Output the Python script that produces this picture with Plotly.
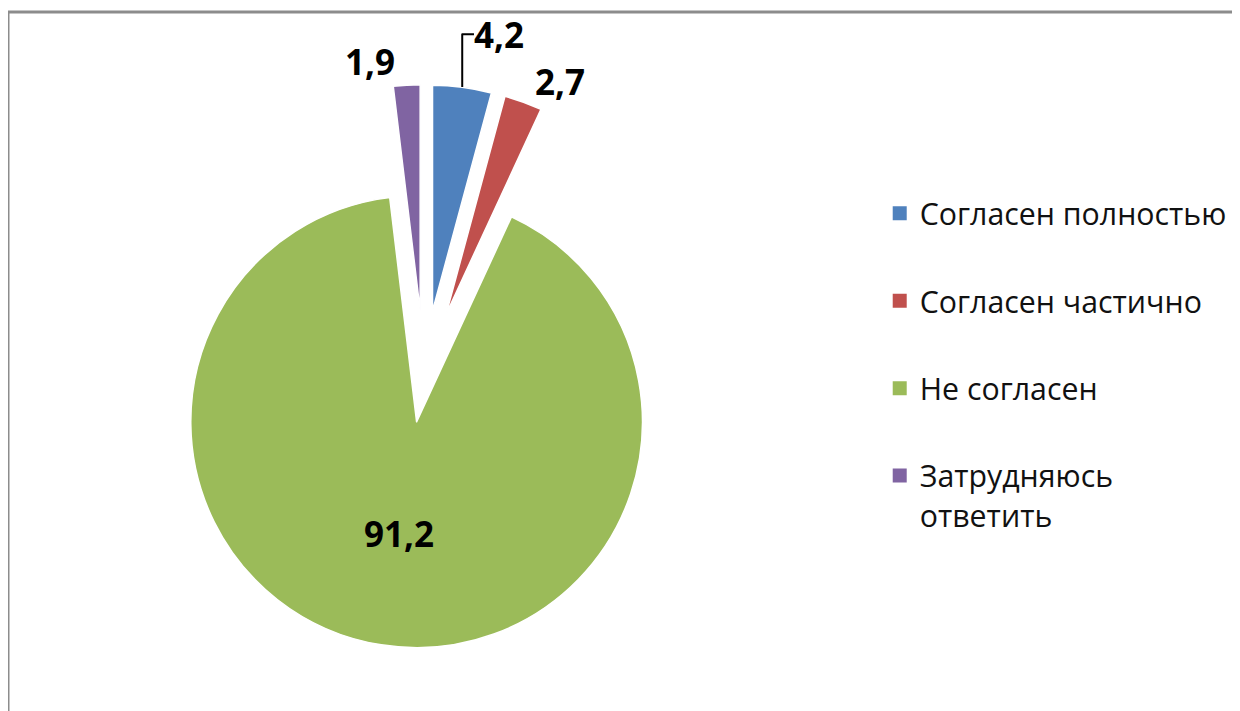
import plotly.graph_objects as go

labels = ['Согласен полностью', 'Согласен частично', 'Не согласен', 'Затрудняюсь<br>ответить']
values = [4.2, 2.7, 91.2, 1.9]
colors = ['#4F81BD', '#C0504D', '#9BBB59', '#8064A2']
pulls = [0.286, 0.286, 0.21, 0.286]
text_pos = ['outside', 'outside', 'inside', 'outside']

fig = go.Figure()

fig.add_trace(go.Pie(
    labels=labels,
    values=values,
    sort=False,
    direction='clockwise',
    rotation=0,
    pull=pulls,
    marker=dict(colors=colors, line=dict(color='white', width=1.5)),
    texttemplate='%{value:.1f}',
    textposition=text_pos,
    textfont=dict(family='Open Sans', size=35, color='black', weight='bold'),
    insidetextorientation='horizontal',
    showlegend=False,
    domain=dict(x=[0.1013, 0.5697], y=[0.0754, 0.8923]),
    hoverinfo='label+value',
))

# legend proxies so the entries can be spaced like the original
for lab, col in zip(labels, colors):
    fig.add_trace(go.Scatter(
        x=[None], y=[None], mode='markers', name=lab,
        legendgroup=lab,
        marker=dict(symbol='square', size=14, color=col),
    ))

fig.update_layout(
    width=1240,
    height=711,
    margin=dict(l=0, r=0, t=0, b=0, autoexpand=False),
    paper_bgcolor='white',
    plot_bgcolor='white',
    separators=', ',
    xaxis=dict(visible=False),
    yaxis=dict(visible=False),
    legend=dict(
        x=0.703, y=0.748, xanchor='left', yanchor='top',
        font=dict(family='Open Sans', size=30.3, color='#111111'),
        tracegroupgap=45,
        valign='top',
        bgcolor='rgba(0,0,0,0)',
    ),
    shapes=[dict(
        type='rect', xref='paper', yref='paper',
        x0=0, x1=1.02, y0=-0.02, y1=1 - 4 / 711,
        line=dict(color='#8c8c8c', width=3),
        layer='below',
    )],
)

fig.write_html("out.html")
